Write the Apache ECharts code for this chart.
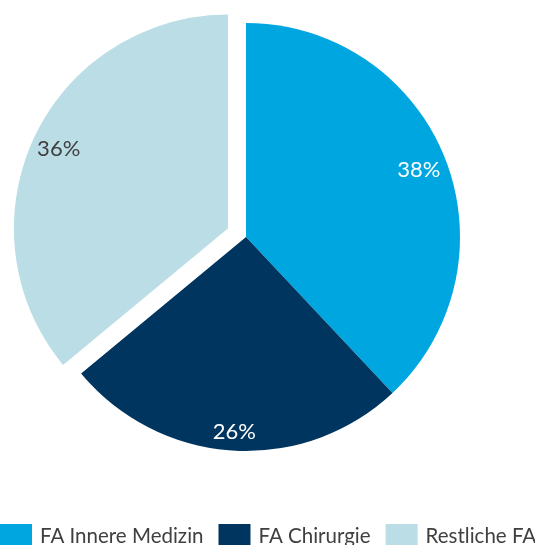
<!DOCTYPE html>
<html>
<head>
<meta charset="utf-8">
<script src="https://cdn.jsdelivr.net/npm/echarts@6/dist/echarts.min.js"></script>
<style>
  html, body { margin: 0; padding: 0; background: #fff; }
  #chart { width: 535px; height: 545px; }
</style>
</head>
<body>
<div id="chart"></div>
<script>
// Anteile der Fachärzte nach Fachrichtung
const categories = ['FA Innere Medizin', 'FA Chirurgie', 'Restliche FA'];
const shares = [38, 26, 36];
const colors = ['#00A6E0', '#003560', '#BADDE6'];
const labelColors = ['#FFFFFF', '#FFFFFF', '#404040'];
const labelNudges = [[-1, 2], [0, 8], [2, 3]];
const exploded = [false, false, true];

const FONT = 'Lato';
const center = [246, 237];
const outerR = 214;

const baseData = categories.map((name, i) => ({
  name: name,
  value: shares[i],
  selected: exploded[i],
  itemStyle: { color: colors[i] }
}));

// Transparent ring on top of the pie carrying the percentage labels,
// so they sit in the outer part of each slice.
const labelData = categories.map((name, i) => ({
  name: name,
  value: shares[i],
  selected: exploded[i],
  itemStyle: { color: 'rgba(0,0,0,0)' },
  label: {
    color: labelColors[i],
    offset: labelNudges[i]
  }
}));

const chart = echarts.init(document.getElementById('chart'), null, { renderer: 'canvas' });
chart.setOption({
  animation: false,
  backgroundColor: '#ffffff',
  legend: {
    data: categories,
    left: 0,
    top: 524,
    width: 700,
    padding: 0,
    itemGap: 15,
    itemWidth: 32,
    itemHeight: 25,
    icon: 'rect',
    textStyle: { fontFamily: FONT, fontSize: 20.5, color: '#404040', padding: [0, 0, 0, 3] },
    selectedMode: false
  },
  series: [
    {
      type: 'pie',
      center: center,
      radius: [0, outerR],
      startAngle: 90,
      clockwise: true,
      selectedMode: 'multiple',
      selectedOffset: 20,
      silent: true,
      label: { show: false },
      labelLine: { show: false },
      itemStyle: { borderWidth: 0 },
      select: { itemStyle: { borderWidth: 0 } },
      data: baseData
    },
    {
      type: 'pie',
      center: center,
      radius: [154, outerR],
      startAngle: 90,
      clockwise: true,
      selectedMode: 'multiple',
      selectedOffset: 20,
      silent: true,
      label: {
        show: true,
        position: 'inside',
        fontFamily: FONT,
        fontSize: 22,
        formatter: p => p.value + '%'
      },
      labelLine: { show: false },
      itemStyle: { borderWidth: 0 },
      select: { itemStyle: { borderWidth: 0 } },
      data: labelData
    }
  ]
});
</script>
</body>
</html>
